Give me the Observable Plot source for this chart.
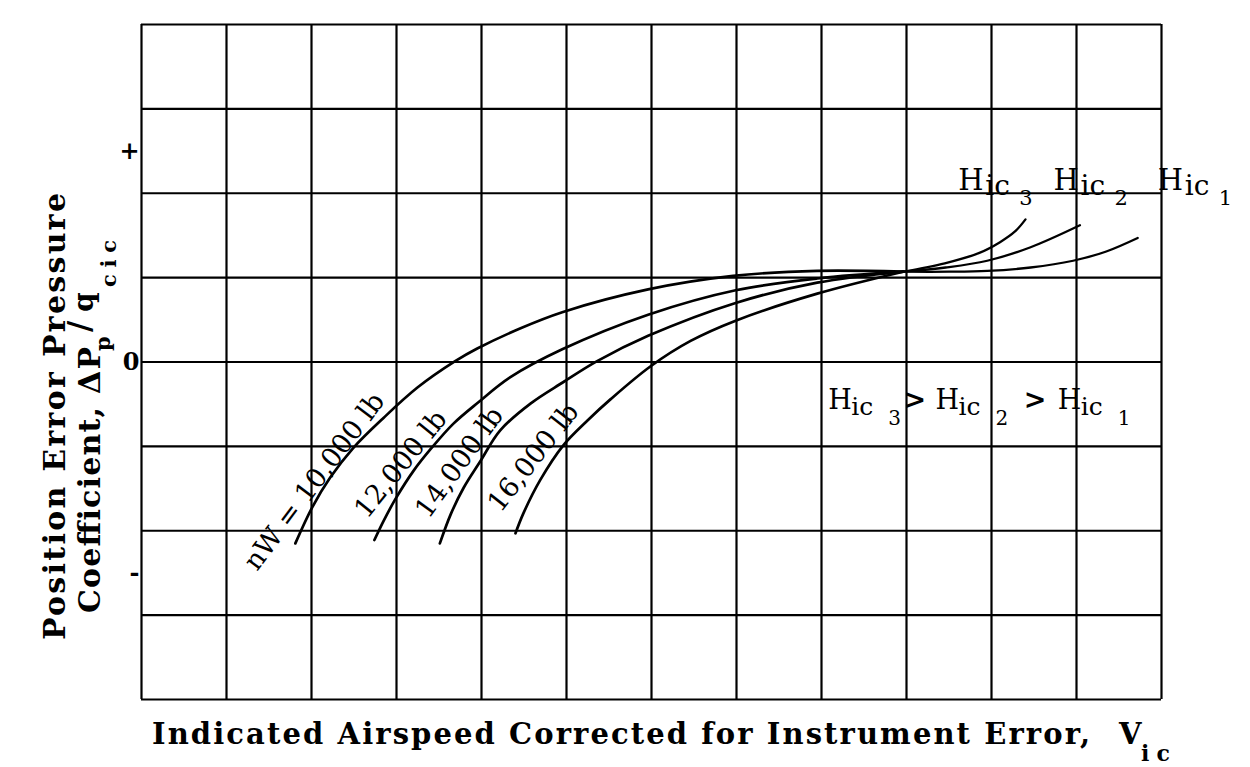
<!DOCTYPE html>
<html><head><meta charset="utf-8">
<script src="https://cdn.jsdelivr.net/npm/d3@7"></script>
<script src="https://cdn.jsdelivr.net/npm/@observablehq/plot@0.6"></script>
<style>html,body{margin:0;padding:0;background:#fff}svg{display:block}</style>
</head><body><div id="chart"></div>
<script>
// Grid (schematic chart: axes are in grid-cell units, no numeric scale)
const gridX = [0,1,2,3,4,5,6,7,8,9,10,11,12];
const gridY = [-4,-3,-2,-1,0,1,2,3,4];
const yTickValues = [2.5, 0, -2.5];
const yTickLabels = ["+", "0", "-"];

// Gross-weight curves
const w10000 = [[1.81,-2.15],[2.01,-1.72],[2.22,-1.37],[2.49,-1.02],[2.85,-0.66],[3.25,-0.30],[3.69,0.01],[3.95,0.16],[4.46,0.40],[4.95,0.59],[5.96,0.86],[6.96,1.02],[7.95,1.08],[8.96,1.07]];
const w12000 = [[2.74,-2.11],[2.85,-1.88],[2.99,-1.62],[3.20,-1.29],[3.42,-1.01],[3.67,-0.73],[3.96,-0.48],[4.34,-0.18],[4.95,0.15],[5.96,0.56],[6.99,0.85],[7.95,0.99],[8.96,1.07]];
const w14000 = [[3.51,-2.15],[3.64,-1.80],[3.79,-1.49],[3.99,-1.17],[4.22,-0.81],[4.58,-0.49],[4.96,-0.24],[5.36,0.01],[5.96,0.31],[6.99,0.70],[7.95,0.94],[8.96,1.07]];
const w16000 = [[4.40,-2.03],[4.49,-1.80],[4.69,-1.40],[4.96,-0.99],[5.25,-0.69],[5.52,-0.44],[5.99,-0.05],[6.46,0.25],[6.99,0.49],[7.95,0.81],[8.96,1.07]];
// Altitude branches
const hic3 = [[8.96,1.07],[9.45,1.17],[9.85,1.29],[10.1,1.42],[10.28,1.55],[10.40,1.69]];
const hic2 = [[8.96,1.07],[9.46,1.12],[9.95,1.20],[10.46,1.36],[11.04,1.62]];
const hic1 = [[8.96,1.07],[9.5,1.07],[9.95,1.08],[10.46,1.12],[10.96,1.20],[11.35,1.31],[11.72,1.47]];

// Curve labels
const curveLabelText = ["nW = 10,000 lb", "12,000 lb", "14,000 lb", "16,000 lb"];
const curveLabelX = [2.035, 3.05, 3.74, 4.61];
const curveLabelY = [-1.416, -1.21, -1.19, -1.13];
const curveLabelAngle = [-53, -51, -54, -52];

// Hic labels
const hicTopX = [9.61, 10.73, 11.955];
const hicTopSub = ["3", "2", "1"];
const hicTopY = 2.04;
const hicRowX = [8.08, 9.34, 10.78];
const hicRowSub = ["3", "2", "1"];
const hicRowY = -0.56;
const gtX = [8.965, 10.38];

const weightSeries = [["10000", w10000], ["12000", w12000], ["14000", w14000], ["16000", w16000]];
const hicSeries = [["hic3", hic3], ["hic2", hic2], ["hic1", hic1]];
const toRows = s => s.flatMap(([name, pts]) => pts.map(([x, y]) => ({series: name, x, y})));

const font = "DejaVu Serif";
const txt = {fontFamily: font, fill: "black", textAnchor: "start", lineAnchor: "bottom"};

const chart = Plot.plot({
  width: 1250, height: 767,
  marginLeft: 141, marginRight: 89, marginTop: 24, marginBottom: 68,
  style: {background: "white", color: "black", fontFamily: font, fontSize: "24px", fontWeight: "bold"},
  x: {domain: [0, 12], axis: null},
  y: {domain: [-4, 4], ticks: yTickValues, tickFormat: d => yTickLabels[yTickValues.indexOf(d)], tickSize: 0, tickPadding: 2, label: null},
  marks: [
    Plot.ruleX(gridX, {stroke: "black", strokeWidth: 2.2}),
    Plot.ruleY(gridY, {stroke: "black", strokeWidth: 2.2}),
    Plot.line(toRows(weightSeries), {x: "x", y: "y", z: "series", curve: "catmull-rom", stroke: "black", strokeWidth: 2.7}),
    Plot.line(toRows(hicSeries), {x: "x", y: "y", z: "series", curve: "catmull-rom", stroke: "black", strokeWidth: 2.3}),
    Plot.text(curveLabelText, {x: (d, i) => curveLabelX[i], y: (d, i) => curveLabelY[i], text: d => d,
      rotate: (d, i) => curveLabelAngle[i], fontSize: 27, fontWeight: "normal", fontFamily: font, fill: "black",
      textAnchor: "middle", lineAnchor: "middle"}),
    // top H labels
    Plot.text(hicTopX, {...txt, x: d => d, y: () => hicTopY, text: () => "H", fontSize: 29, fontWeight: "normal"}),
    Plot.text(hicTopX, {...txt, x: d => d, y: () => hicTopY, text: () => "ic", dx: 27, dy: 5, fontSize: 28, fontWeight: "normal"}),
    Plot.text(hicTopX, {...txt, x: d => d, y: () => hicTopY, text: (d, i) => hicTopSub[i], dx: 61, dy: 15, fontSize: 21, fontWeight: "normal"}),
    // row H labels
    Plot.text(hicRowX, {...txt, x: d => d, y: () => hicRowY, text: () => "H", fontSize: 27, fontWeight: "normal"}),
    Plot.text(hicRowX, {...txt, x: d => d, y: () => hicRowY, text: () => "ic", dx: 23, dy: 6, fontSize: 25, fontWeight: "normal"}),
    Plot.text(hicRowX, {...txt, x: d => d, y: () => hicRowY, text: (d, i) => hicRowSub[i], dx: 60, dy: 16, fontSize: 20, fontWeight: "normal"}),
    Plot.text(gtX, {...txt, x: d => d, y: () => hicRowY, text: () => ">", fontSize: 27, fontWeight: "bold"})
  ]
});
document.getElementById("chart").append(chart);

// Axis titles (with sub/superscripts)
const svg = d3.select(chart);
const g = svg.append("g").attr("font-family", font).attr("font-weight", "bold")
  .attr("fill", "black").attr("text-anchor", "start");
// x title
g.append("text").attr("x", 152).attr("y", 744).attr("font-size", 29)
  .attr("textLength", 938).attr("lengthAdjust", "spacing")
  .text("Indicated Airspeed Corrected for Instrument Error,");
g.append("text").attr("x", 1119).attr("y", 744).attr("font-size", 29).text("V");
g.append("text").attr("x", 1141).attr("y", 761).attr("font-size", 22)
  .attr("textLength", 29).attr("lengthAdjust", "spacing").text("ic");
// y title line 1
g.append("text").attr("transform", "translate(65,640) rotate(-90)").attr("font-size", 30)
  .attr("textLength", 447).attr("lengthAdjust", "spacing").text("Position Error Pressure");
// y title line 2
const l2 = g.append("g").attr("transform", "translate(100,613) rotate(-90)");
l2.append("text").attr("x", 0).attr("y", 0).attr("font-size", 30)
  .attr("textLength", 266).attr("lengthAdjust", "spacing").text("Coefficient, \u0394P");
l2.append("text").attr("x", 262).attr("y", 10).attr("font-size", 21).text("p");
l2.append("text").attr("x", 281).attr("y", -10).attr("font-size", 31).text("/");
l2.append("text").attr("x", 301).attr("y", -7).attr("font-size", 28).text("q");
l2.append("text").attr("x", 326).attr("y", 16).attr("font-size", 21)
  .attr("textLength", 47).attr("lengthAdjust", "spacing").text("cic");
</script>
</body></html>
